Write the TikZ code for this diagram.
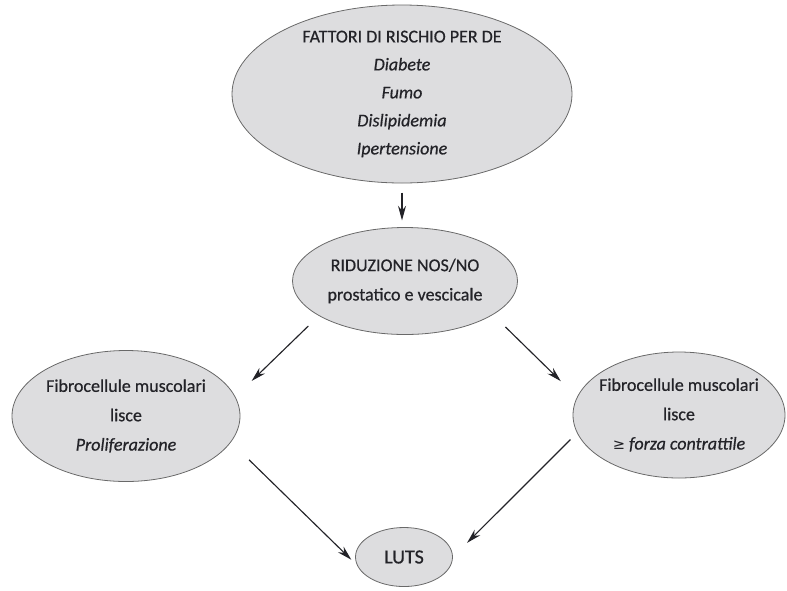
\documentclass[tikz,border=0pt]{standalone}
\usepackage{fontspec}
\setmainfont{Carlito}[FakeBold=0.6]
\newfontfamily\symfont{DejaVu Sans}
\usetikzlibrary{shapes.geometric,arrows.meta}

\definecolor{blobfill}{RGB}{221,221,223}
\definecolor{blobline}{RGB}{105,105,105}
\definecolor{inkgray}{RGB}{35,35,40}

\tikzset{every picture/.style={line width=0.75pt}}
\tikzset{
  blob/.style={ellipse, draw=blobline, line width=0.6pt, fill=blobfill, inner sep=-10pt,
    align=center, text=inkgray, font=\fontsize{13.5}{22}\selectfont},
  arr/.style={draw=inkgray, line width=0.85pt, -{Stealth[length=11pt,width=6pt]}}
}

\begin{document}
\begin{tikzpicture}[x=0.75pt,y=0.75pt,yscale=-1,xscale=1]
	\useasboundingbox (0,0) rectangle (787,590);

	%Shape: Ellipse
	\node[blob, minimum width=255pt, minimum height=133.5pt, font=\fontsize{13.5}{21}\selectfont] (fattori) at (402,94)
		{FATTORI DI RISCHIO PER DE\\ \textit{Diabete}\\ \textit{Fumo}\\ \textit{Dislipidemia}\\ \textit{Ipertensione}};
	%Shape: Ellipse
	\node[blob, minimum width=168.75pt, minimum height=80.25pt] (riduzione) at (405,281)
		{RIDUZIONE NOS/NO\\ prostatico e vescicale};
	%Shape: Ellipse
	\node[blob, minimum width=171pt, minimum height=98.25pt] (fibreSx) at (126,416)
		{Fibrocellule muscolari\\ lisce\\ \textit{Proliferazione}};
	%Shape: Ellipse
	\node[blob, minimum width=159pt, minimum height=94.5pt] (fibreDx) at (679,415)
		{Fibrocellule muscolari\\ lisce\\ {\symfont\fontsize{11}{22}\selectfont ≥} \textit{forza contrattile}};
	%Shape: Ellipse
	\node[blob, minimum width=72.75pt, minimum height=44.25pt, font=\fontsize{15}{22}\selectfont] (luts) at (404,557) {LUTS};

	%Straight Lines
	\draw[arr, shorten <=7pt, shorten >=5pt] (fattori.south) -- (fattori.south |- riduzione.north);
	%Straight Lines
	\draw[arr, shorten <=11pt, shorten >=17pt] (riduzione.202) -- (fibreSx.10);
	%Straight Lines
	\draw[arr, shorten <=13pt, shorten >=17pt] (riduzione.339) -- (fibreDx.170);
	%Straight Lines
	\draw[arr, shorten <=19pt, shorten >=6pt] (fibreSx.346) -- (luts.190);
	%Straight Lines
	\draw[arr, shorten <=7pt, shorten >=15pt] (fibreDx.190) -- (luts.0);

\end{tikzpicture}
\end{document}
